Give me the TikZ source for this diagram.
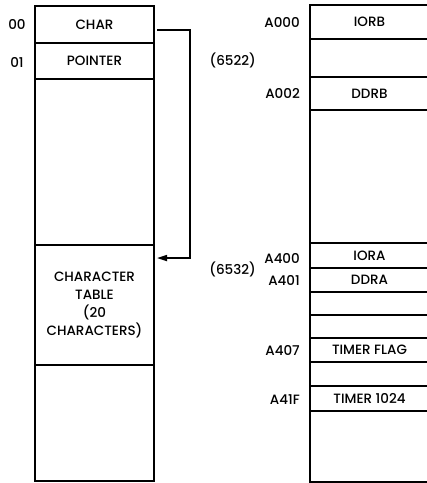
\documentclass[tikz,border=0pt]{standalone}
\usepackage{fontspec}
\setmainfont{Poppins}[UprightFont=* Medium]
\usetikzlibrary{arrows.meta}
\begin{document}
\begin{tikzpicture}[x=1pt,y=-1pt,
  cell/.style={draw, line width=1.6pt, anchor=north west, inner sep=0pt, outer sep=0pt,
    font=\fontsize{13.5}{18}\selectfont, align=center},
  lcell/.style={cell, minimum width=119pt},
  rcell/.style={cell, minimum width=119pt},
  lbl/.style={font=\fontsize{13.5}{16}\selectfont, inner sep=0pt}]
\useasboundingbox (0,0) rectangle (427,483);
% left column
\node[lcell, minimum height=37pt]  (char) at (35,6)   {CHAR};
\node[lcell, minimum height=36pt]  (ptr)  at (35,43)  {POINTER};
\node[lcell, minimum height=166pt] (lfree1) at (35,79) {};
\node[lcell, minimum height=120pt] (table) at (35,245) {CHARACTER\\TABLE\\(20\\CHARACTERS)};
\node[lcell, minimum height=116pt] (lfree2) at (35,365) {};
% right column
\node[rcell, minimum height=34pt]  (iorb) at (310,5)   {IORB};
\node[rcell, minimum height=38pt]  (r1)   at (310,39)  {};
\node[rcell, minimum height=33pt]  (ddrb) at (310,77)  {DDRB};
\node[rcell, minimum height=133pt] (r2)   at (310,110) {};
\node[rcell, minimum height=25pt]  (iora) at (310,243) {IORA};
\node[rcell, minimum height=24pt]  (ddra) at (310,268) {DDRA};
\node[rcell, minimum height=23pt]  (r3)   at (310,292) {};
\node[rcell, minimum height=23pt]  (r4)   at (310,315) {};
\node[rcell, minimum height=24pt]  (tflag) at (310,338) {TIMER FLAG};
\node[rcell, minimum height=24pt]  (r5)   at (310,362) {};
\node[rcell, minimum height=25pt]  (t1024) at (310,386) {TIMER 1024};
\node[rcell, minimum height=71pt]  (r6)   at (310,411) {};
% labels
\node[lbl] (l00) at (17,24) {00};
\node[lbl] (l01) at (17,62) {01};
\node[lbl, anchor=east] (a000) at (300,22) {A000};
\node[lbl, anchor=east] (p6522) at (256,60) {(6522)};
\node[lbl, anchor=east] (a002) at (300,93) {A002};
\node[lbl, anchor=east] (a400) at (300,258) {A400};
\node[lbl, anchor=east] (p6532) at (256,269) {(6532)};
\node[lbl, anchor=east] (a401) at (300,280) {A401};
\node[lbl, anchor=east] (a407) at (300,350) {A407};
\node[lbl, anchor=east] (a41f) at (300,400) {A41F};
% pointer arrow
\coordinate (s) at (157,30);
\coordinate (e) at (157,258);
\coordinate (turn) at (190,30);
\draw[line width=1.6pt, -{Triangle[length=10pt,width=6pt]}] (s) -- (turn) |- (e);
\end{tikzpicture}
\end{document}
